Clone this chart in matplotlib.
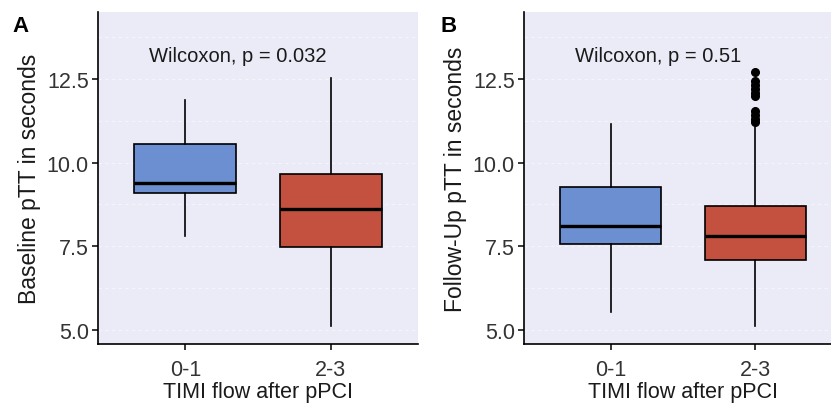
import matplotlib
matplotlib.use("Agg")
import matplotlib.pyplot as plt

plt.rcParams['font.family'] = ['Liberation Sans', 'DejaVu Sans']

categories = ["0-1", "2-3"]
xlabel = "TIMI flow after pPCI"

# Panel A: Baseline pTT
a_whislo = [7.82, 5.13]
a_q1 = [9.08, 7.49]
a_med = [9.40, 8.60]
a_q3 = [10.56, 9.67]
a_whishi = [11.88, 12.52]
a_fliers = [[], []]
a_label = "Baseline pTT in seconds"
a_text = "Wilcoxon, p = 0.032"

# Panel B: Follow-up pTT
b_whislo = [5.55, 5.13]
b_q1 = [7.58, 7.08]
b_med = [8.11, 7.81]
b_q3 = [9.28, 8.70]
b_whishi = [11.16, 11.06]
b_fliers = [[], [12.70, 12.45, 12.33, 12.20, 12.08, 11.98, 11.55, 11.42, 11.30, 11.20]]
b_label = "Follow-Up pTT in seconds"
b_text = "Wilcoxon, p = 0.51"

yticks = [5.0, 7.5, 10.0, 12.5]
minor = [6.25, 8.75, 11.25, 13.75]
colors = ["#6b8fd0", "#c4513f"]
bg = "#ebebf7"

fig = plt.figure(figsize=(8.31, 4.06), dpi=100)
axA = fig.add_axes([98/831, 61/406, 320/831, 332/406])
axB = fig.add_axes([524/831, 61/406, 318/831, 332/406])


def draw(ax, wl, q1, med, q3, wh, fl, ylabel, text, letter, lx):
    stats = []
    for i in range(len(categories)):
        stats.append(dict(med=med[i], q1=q1[i], q3=q3[i], whislo=wl[i],
                          whishi=wh[i], fliers=fl[i], label=categories[i]))
    ax.set_facecolor(bg)
    for y in yticks + minor:
        ax.axhline(y, color="#f4f4fa", lw=0.8, ls=(0, (3, 3)), zorder=0)
    bp = ax.bxp(stats, positions=[1, 2], widths=0.7, patch_artist=True,
                showcaps=False,
                boxprops=dict(edgecolor="black", linewidth=1.2),
                medianprops=dict(color="black", linewidth=2.4),
                whiskerprops=dict(color="black", linewidth=1.2),
                flierprops=dict(marker="o", markerfacecolor="black",
                                markeredgecolor="black", markersize=5.5))
    for patch, c in zip(bp["boxes"], colors):
        patch.set_facecolor(c)
    ax.set_xlim(0.4, 2.6)
    ax.set_ylim(4.58, 14.5)
    ax.set_yticks(yticks)
    ax.set_yticklabels([f"{v:.1f}" for v in yticks])
    ax.set_xticks([1, 2])
    ax.set_xticklabels(categories)
    for s in ["top", "right"]:
        ax.spines[s].set_visible(False)
    for s in ["left", "bottom"]:
        ax.spines[s].set_linewidth(1.2)
        ax.spines[s].set_color("black")
    ax.tick_params(axis="both", length=4.5, width=1.1, color="black",
                   labelsize=15.5, labelcolor="#333333")
    ax.tick_params(axis="x", pad=6)
    ax.tick_params(axis="y", pad=2)
    ax.set_xlabel(xlabel, fontsize=15.5, color="#1a1a1a", labelpad=1)
    ax.set_ylabel(ylabel, fontsize=16.5, color="#1a1a1a", labelpad=4)
    ax.text(0.75, 13.2, text, fontsize=14.5, color="#1a1a1a",
            ha="left", va="center")
    fig.text(lx, 1 - 27/406, letter, fontsize=16, fontweight="bold",
             ha="left", va="center")


draw(axA, a_whislo, a_q1, a_med, a_q3, a_whishi, a_fliers, a_label, a_text, "A", 12/831)
draw(axB, b_whislo, b_q1, b_med, b_q3, b_whishi, b_fliers, b_label, b_text, "B", 440/831)

fig.savefig("out.png", dpi=100)
